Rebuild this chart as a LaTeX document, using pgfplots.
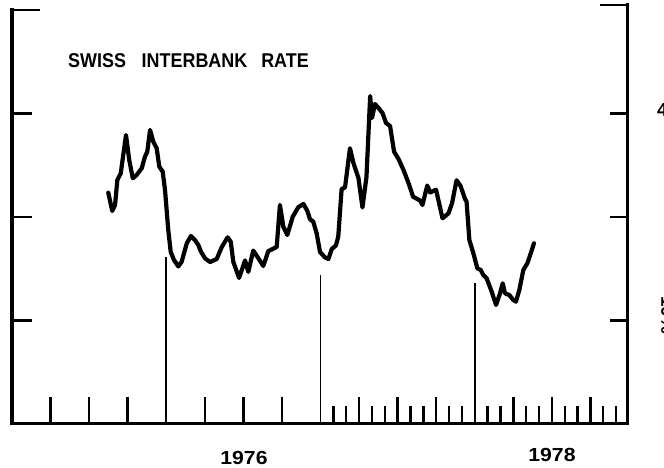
\documentclass[border=0pt]{standalone}
\usepackage{fontspec}
\setmainfont{Liberation Sans}
\usepackage{graphicx}
\usepackage{pgfplots}
\pgfplotsset{compat=1.18}
\usepackage{pgfplotstable}

\pgfplotstableread{
t r
1975.624 3.235
1975.650 3.058
1975.668 3.116
1975.683 3.357
1975.705 3.422
1975.739 3.792
1975.760 3.551
1975.783 3.374
1975.808 3.406
1975.841 3.471
1975.862 3.583
1975.877 3.631
1975.895 3.841
1975.916 3.728
1975.938 3.664
1975.955 3.486
1975.977 3.438
1975.992 3.261
1976.013 2.874
1976.029 2.662
1976.050 2.585
1976.078 2.522
1976.100 2.568
1976.133 2.746
1976.160 2.816
1976.186 2.778
1976.208 2.729
1976.225 2.665
1976.251 2.601
1976.284 2.565
1976.327 2.594
1976.360 2.710
1976.398 2.804
1976.418 2.761
1976.435 2.565
1976.472 2.411
1976.511 2.580
1976.532 2.469
1976.564 2.676
1976.597 2.601
1976.629 2.527
1976.662 2.671
1976.716 2.710
1976.737 3.116
1976.759 2.906
1976.785 2.826
1976.820 3.003
1976.856 3.094
1976.889 3.126
1976.914 3.061
1976.932 2.978
1976.953 2.955
1976.975 2.842
1976.997 2.662
1977.029 2.609
1977.051 2.594
1977.073 2.691
1977.100 2.725
1977.115 2.810
1977.137 3.271
1977.159 3.285
1977.191 3.664
1977.214 3.519
1977.246 3.377
1977.272 3.092
1977.298 3.386
1977.322 4.169
1977.334 3.957
1977.353 4.092
1977.376 4.053
1977.402 4.005
1977.425 3.908
1977.451 3.879
1977.477 3.631
1977.506 3.560
1977.538 3.454
1977.571 3.326
1977.600 3.196
1977.645 3.159
1977.661 3.116
1977.692 3.304
1977.711 3.237
1977.749 3.264
1977.791 2.987
1977.830 3.036
1977.853 3.135
1977.882 3.355
1977.908 3.300
1977.937 3.174
1977.947 3.148
1977.965 2.778
1977.991 2.649
1978.017 2.504
1978.039 2.488
1978.055 2.440
1978.077 2.408
1978.110 2.278
1978.138 2.150
1978.164 2.263
1978.181 2.359
1978.196 2.263
1978.224 2.246
1978.250 2.198
1978.267 2.182
1978.289 2.295
1978.315 2.488
1978.341 2.553
1978.363 2.649
1978.384 2.746
}\swiss

\begin{document}
\begin{tikzpicture}
\useasboundingbox (0,0) rectangle (664bp,468bp);
\begin{axis}[
  scale only axis, width=617bp, height=414bp,
  at={(12bp,44bp)}, anchor=south west,
  xmin=1975, xmax=1979, ymin=1, ymax=5,
  hide axis, clip=false,
]
\addplot[black, line width=4.2bp, line join=round, line cap=round] table[x=t,y=r] {\swiss};
% frame
\draw[line width=3bp, line cap=rect] (axis cs:1975,5) -- (axis cs:1975,1) -- (axis cs:1978.987,1) -- (axis cs:1978.987,5.05);
\draw[line width=2.6bp] (axis cs:1975,5) -- (axis cs:1975.1815,5);
\draw[line width=2.6bp] (axis cs:1978.987,5.05) -- (axis cs:1978.812,5.05);
\pgfplotsinvokeforeach{2,3,4}{
  \draw[line width=2.4bp] (axis cs:1975,#1) -- (axis cs:1975.1297,#1);
  \draw[line width=2.4bp] (axis cs:1978.987,#1) -- (axis cs:1978.877,#1);
}
\pgfplotsinvokeforeach{1975.25,1975.5,1975.75,1976.25,1976.5,1976.75,1977.25,1977.5,1977.75,1978.25,1978.5,1978.75}{
  \draw[line width=2.4bp] (axis cs:#1,1) -- (axis cs:#1,1.2609);
}
\pgfplotsinvokeforeach{1977.0833,1977.1667,1977.3333,1977.4167,1977.5833,1977.6667,1977.8333,1977.9167,1978.0833,1978.1667,1978.3333,1978.4167,1978.5833,1978.6667,1978.8333,1978.9167}{
  \draw[line width=2.4bp] (axis cs:#1,1) -- (axis cs:#1,1.1739);
}
\draw[line width=1.9bp] (axis cs:1976,1) -- (axis cs:1976,2.614);
\draw[line width=1.9bp] (axis cs:1977,1) -- (axis cs:1977,2.440);
\draw[line width=1.9bp] (axis cs:1978,1) -- (axis cs:1978,2.362);
\end{axis}
\node[anchor=base west, inner sep=0, font=\bfseries\fontsize{20}{20}\selectfont] at (68bp,400bp) {\scalebox{0.9}[1]{SWISS\hspace{17.5bp}INTERBANK\hspace{15.5bp}RATE}};
\node[anchor=base, inner sep=0, font=\bfseries\fontsize{19}{19}\selectfont] at (244bp,4bp) {\scalebox{1.12}[1]{1976}};
\node[anchor=base, inner sep=0, font=\bfseries\fontsize{19}{19}\selectfont] at (552bp,7bp) {\scalebox{1.12}[1]{1978}};
\node[anchor=west, inner sep=0, font=\bfseries\fontsize{19}{19}\selectfont] at (657bp,358bp) {4};
\node[rotate=-90, inner sep=0, font=\bfseries\fontsize{19}{19}\selectfont] at (668bp,153bp) {10\%};
\end{tikzpicture}
\end{document}
